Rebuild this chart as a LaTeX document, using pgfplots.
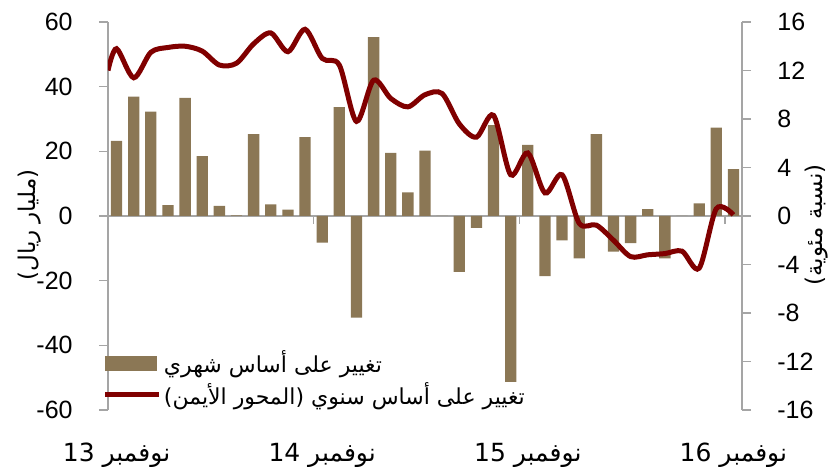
\documentclass[border=0pt]{standalone}
\usepackage{fontspec}
\usepackage{pgfplots}
\usepackage{pgfplotstable}
\pgfplotsset{compat=1.18}
\setmainfont{Liberation Sans}
\newfontfamily\arabicfont[Script=Arabic]{DejaVu Sans}
\TeXXeTstate=1
\definecolor{barc}{RGB}{139,119,85}
\definecolor{linec}{RGB}{128,0,0}
\definecolor{axc}{RGB}{165,165,165}

\pgfplotstableread{
x y
0 23.2
1 36.9
2 32.3
3 3.4
4 36.5
5 18.5
6 3.1
7 0.2
8 25.3
9 3.6
10 2.0
11 24.4
12 -8.2
13 33.7
14 -31.4
15 55.3
16 19.5
17 7.3
18 20.2
19 0
20 -17.3
21 -3.7
22 28.1
23 -51.3
24 22.0
25 -18.6
26 -7.5
27 -13.1
28 25.3
29 -11.0
30 -8.4
31 2.1
32 -13.1
33 0
34 3.9
35 27.3
36 14.5
}\bardata

\pgfplotstableread{
x y
-0.5 12.0
0 13.8
1 11.4
2 13.5
3 13.9
4 14.0
5 13.6
6 12.45
7 12.6
8 14.2
9 15.1
10 13.55
11 15.4
12 13.0
13 12.45
14 7.8
15 11.2
16 9.7
17 9.0
18 10.0
19 10.1
20 7.6
21 6.5
22 8.3
23 3.4
24 5.2
25 1.9
26 3.4
27 -0.6
28 -0.75
29 -2.0
30 -3.35
31 -3.2
32 -3.1
33 -2.9
34 -4.3
35 0.6
36 0.1
}\linedata

\begin{document}
\begin{tikzpicture}[font=\fontsize{12.5}{15}\selectfont]
\useasboundingbox (-54pt,-28pt) rectangle (360.5pt,205pt);
\begin{axis}[
  at={(0,0)}, anchor=south west,
  scale only axis, width=317pt, height=194pt,
  xmin=-0.5, xmax=36.5, ymin=-60, ymax=60,
  axis y line*=left, axis x line*=bottom,
  x axis line style={draw=none},
  y axis line style={draw=axc, line width=0.7pt},
  xtick={0,12,24,36},
  xticklabels={{\arabicfont\beginR نوفمبر \beginL13\endL\endR},{\arabicfont\beginR نوفمبر \beginL14\endL\endR},{\arabicfont\beginR نوفمبر \beginL15\endL\endR},{\arabicfont\beginR نوفمبر \beginL16\endL\endR}},
  xticklabel style={anchor=center, yshift=-18pt, inner sep=0pt},
  major x tick style={draw=none},
  ytick={-60,-40,-20,0,20,40,60},
  yticklabels={-60,-40,-20,0,20,40,60},
  yticklabel style={anchor=east, inner sep=0pt, xshift=-13pt},
  tick align=outside, major tick length=4.5pt,
  major y tick style={draw=axc, line width=0.7pt},
  ylabel={\arabicfont\beginR(مليار ريال)\endR},
  ylabel style={at={(axis description cs:-0.123,0.477)}, anchor=center, font=\fontsize{11.5}{14}\selectfont},
  clip=false,
]
\draw[axc, line width=0.7pt] (axis cs:-0.5,0) -- (axis cs:36.5,0);
\draw[axc, line width=0.7pt] (axis cs:11.5,0) -- ([yshift=-4pt]axis cs:11.5,0);
\draw[axc, line width=0.7pt] (axis cs:23.5,0) -- ([yshift=-4pt]axis cs:23.5,0);
\draw[axc, line width=0.7pt] (axis cs:35.5,0) -- ([yshift=-4pt]axis cs:35.5,0);
\addplot[ybar, bar width=0.66, fill=barc, draw=none] table {\bardata};
\end{axis}
\begin{axis}[
  at={(0,0)}, anchor=south west,
  scale only axis, width=317pt, height=194pt,
  xmin=-0.5, xmax=36.5, ymin=-16, ymax=16,
  axis y line*=right, axis x line=none,
  y axis line style={draw=axc, line width=0.7pt},
  ytick={-16,-12,-8,-4,0,4,8,12,16},
  yticklabels={-16,-12,-8,-4,0,4,8,12,16},
  yticklabel style={anchor=west, inner sep=0pt, xshift=13pt},
  tick align=outside, major tick length=4.5pt,
  major y tick style={draw=axc, line width=0.7pt},
  ylabel={\arabicfont\beginR(نسبة مئوية)\endR},
  ylabel style={at={(axis description cs:1.118,0.477)}, anchor=center, font=\fontsize{11.5}{14}\selectfont},
  legend style={draw=none, fill=none, at={(axis description cs:-0.018,0.0799)}, anchor=west,
    row sep=3.5pt, column sep=1pt, nodes={inner sep=0pt}, font=\fontsize{11}{13}\selectfont},
  legend cell align=left,
]
\addlegendimage{legend image code/.code={\fill[barc] (0pt,-3.5pt) rectangle (25.5pt,3.5pt);}}
\addlegendentry{\arabicfont\beginR تغيير على أساس شهري\endR}
\addplot[linec, line width=2.5pt, smooth, tension=0.5,
  legend image code/.code={\draw[linec, line width=2.5pt] (0pt,0pt) -- (27pt,0pt);}] table {\linedata};
\addlegendentry{\arabicfont\beginR تغيير على أساس سنوي (المحور الأيمن)\endR}
\end{axis}
\end{tikzpicture}
\end{document}
